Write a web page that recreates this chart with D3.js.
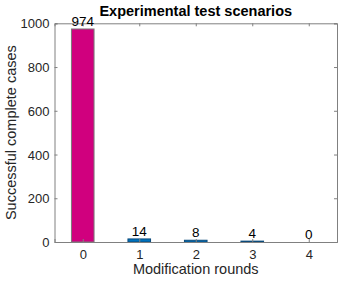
<!DOCTYPE html>
<html><head><meta charset="utf-8">
<script src="https://cdn.jsdelivr.net/npm/d3@7"></script>
<style>body{margin:0;background:#fff}svg{display:block}</style>
</head><body>
<script>
const categories = [0, 1, 2, 3, 4];
const values = [974, 14, 8, 4, 0];
const barColors = ["#D0007E", "#0072BD", "#0072BD", "#0072BD", "#0072BD"];
const yTicks = [0, 200, 400, 600, 800, 1000];
const title = "Experimental test scenarios";
const xLabel = "Modification rounds";
const yLabel = "Successful complete cases";

const W = 345, H = 283;
const m = {left: 54.5, right: 8, top: 23.3, bottom: 41};
const svg = d3.select("body").append("svg").attr("width", W).attr("height", H);
const font = "'Liberation Sans', Arial, sans-serif";

const x = d3.scaleLinear().domain([-0.5, 4.5]).range([m.left, W - m.right]);
const y = d3.scaleLinear().domain([0, 1000]).range([H - m.bottom, m.top]);
const axisColor = "#808080";
const bw = x(0.4) - x(0);

svg.append("g").selectAll("rect").data(values).join("rect")
  .attr("x", (d, i) => x(categories[i]) - bw / 2)
  .attr("y", d => y(d))
  .attr("width", bw)
  .attr("height", d => y(0) - y(d))
  .attr("fill", (d, i) => barColors[i])
  .attr("stroke", (d, i) => i === 0 ? "#7a7a7a" : "#0b4a7a")
  .attr("stroke-width", 1);

// axes
const gx = svg.append("g").attr("transform", `translate(0,${y(0)})`)
  .call(d3.axisBottom(x).tickValues(categories).tickSize(-3).tickPadding(8).tickFormat(d3.format("d")));
const gxt = svg.append("g").attr("transform", `translate(0,${y(1000)})`)
  .call(d3.axisTop(x).tickValues(categories).tickSize(-3).tickFormat(""));
const gy = svg.append("g").attr("transform", `translate(${x(-0.5)},0)`)
  .call(d3.axisLeft(y).tickValues(yTicks).tickSize(-3).tickPadding(5).tickFormat(d3.format("d")));
const gyr = svg.append("g").attr("transform", `translate(${x(4.5)},0)`)
  .call(d3.axisRight(y).tickValues(yTicks).tickSize(-3).tickFormat(""));
[gx, gxt, gy, gyr].forEach(g => {
  g.select(".domain").attr("stroke", axisColor);
  g.selectAll(".tick line").attr("stroke", axisColor);
  g.selectAll("text").attr("font-family", font).attr("font-size", 13).attr("fill", "#262626");
});
gx.selectAll(".tick text").attr("dy", "0.71em");
gy.selectAll(".tick text").attr("dy", "0.35em");

// value labels
svg.append("g").selectAll("text").data(values).join("text")
  .attr("x", (d, i) => x(categories[i]))
  .attr("y", d => y(d) - 3)
  .attr("text-anchor", "middle")
  .attr("font-family", font).attr("font-size", 13.5).attr("fill", "#000")
  .text(d => d);

svg.append("text").attr("x", (x(-0.5) + x(4.5)) / 2).attr("y", 16)
  .attr("text-anchor", "middle").attr("font-family", font).attr("font-size", 14.5)
  .attr("font-weight", "bold").attr("fill", "#000").text(title);
svg.append("text").attr("x", (x(-0.5) + x(4.5)) / 2).attr("y", 274)
  .attr("text-anchor", "middle").attr("font-family", font).attr("font-size", 14.5)
  .attr("fill", "#262626").text(xLabel);
svg.append("text").attr("transform", `translate(16,${(y(0) + y(1000)) / 2}) rotate(-90)`)
  .attr("text-anchor", "middle").attr("font-family", font).attr("font-size", 14.5)
  .attr("fill", "#262626").text(yLabel);
</script>
</body></html>
